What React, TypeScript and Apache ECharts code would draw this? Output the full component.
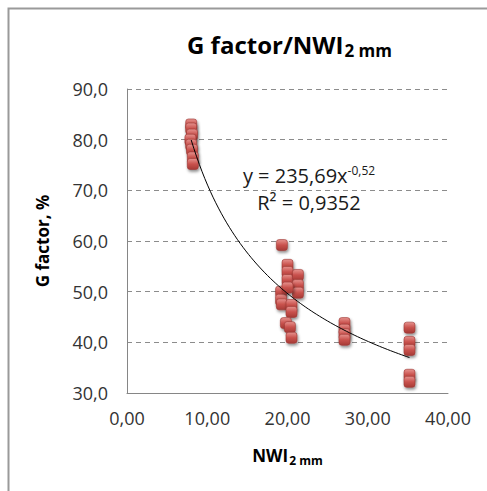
import React, { useEffect, useRef } from "react";
import * as echarts from "echarts";

const clusterA_x = [8.0, 8.0, 8.1, 7.9, 8.0, 8.1, 8.2, 8.2];
const clusterA_y = [83.0, 82.2, 81.0, 80.0, 79.0, 78.0, 76.5, 75.2];

const clusterB_x = [19.3, 20.0, 20.0, 20.0, 21.3, 21.3, 21.3, 19.2, 19.2, 19.3, 20.5, 20.5, 20.0, 19.8, 20.3, 20.5];
const clusterB_y = [59.2, 55.3, 53.9, 52.3, 53.3, 51.3, 49.8, 50.0, 48.4, 47.5, 47.4, 46.0, 50.8, 43.8, 43.0, 40.9];

const clusterC_x = [27.1, 27.1, 27.1, 27.1];
const clusterC_y = [43.8, 42.5, 41.6, 40.5];

const clusterD_x = [35.2, 35.2, 35.2, 35.2, 35.2];
const clusterD_y = [42.9, 40.1, 38.5, 33.6, 32.2];

// Power trend line shown on the chart: y = 235,69 x^-0,52
const TREND_A = 235.69;
const TREND_B = -0.52;
const TREND_X_MIN = 8.0;
const TREND_X_MAX = 35.2;

const yTicks = ["30,0", "40,0", "50,0", "60,0", "70,0", "80,0", "90,0"];
const xTicks = ["0,00", "10,00", "20,00", "30,00", "40,00"];

const FONT = "'Open Sans', Lato, sans-serif";

export default function App() {
  const ref = useRef<HTMLDivElement>(null);
  useEffect(() => {
    if (!ref.current) return;
    const chart = echarts.init(ref.current, undefined, { renderer: "svg" });

    const points: number[][] = [];
    const add = (xs: number[], ys: number[]) => xs.forEach((x, i) => points.push([x, ys[i]]));
    add(clusterA_x, clusterA_y);
    add(clusterB_x, clusterB_y);
    add(clusterC_x, clusterC_y);
    add(clusterD_x, clusterD_y);

    const trend: number[][] = [];
    const steps = 80;
    for (let i = 0; i <= steps; i++) {
      const x = TREND_X_MIN + ((TREND_X_MAX - TREND_X_MIN) * i) / steps;
      trend.push([x, TREND_A * Math.pow(x, TREND_B)]);
    }

    chart.setOption({
      animation: false,
      backgroundColor: "#ffffff",
      grid: { left: 127, right: 39, top: 89, bottom: 98, containLabel: false },
      xAxis: {
        type: "value",
        min: 0,
        max: 40,
        interval: 10,
        axisLine: { show: true, lineStyle: { color: "#868686", width: 1 } },
        axisTick: { show: false },
        splitLine: { show: false },
        axisLabel: {
          margin: 16,
          fontFamily: FONT,
          fontSize: 18,
          color: "#333333",
          formatter: (v: number) => xTicks[Math.round(v / 10)],
        },
        name: "{m|NWI}{s|2 mm}",
        nameLocation: "middle",
        nameGap: 52,
        nameTextStyle: {
          rich: {
            m: { fontFamily: FONT, fontSize: 17, fontWeight: "bold", color: "#000" },
            s: { fontFamily: FONT, fontSize: 12, fontWeight: "bold", color: "#000", padding: [9, 0, 0, 1] },
          },
        },
      },
      yAxis: {
        type: "value",
        min: 30,
        max: 90,
        interval: 10,
        axisLine: { show: true, lineStyle: { color: "#868686", width: 1 } },
        axisTick: { show: false },
        splitLine: { show: true, lineStyle: { color: "#8c8c8c", type: [5, 4], width: 1 } },
        axisLabel: {
          margin: 19,
          fontFamily: FONT,
          fontSize: 18,
          color: "#333333",
          formatter: (v: number) => yTicks[Math.round((v - 30) / 10)],
        },
        name: "G factor, %",
        nameLocation: "middle",
        nameGap: 76,
        nameTextStyle: { fontFamily: FONT, fontSize: 17, fontWeight: "bold", color: "#000" },
      },
      graphic: [
        {
          type: "polyline",
          shape: { points: [[8.5, 491], [8.5, 8.5], [487, 8.5]] },
          style: { stroke: "#9a9a9a", lineWidth: 2, fill: "none" },
          silent: true,
        },
        {
          type: "text",
          x: 187,
          y: 44,
          style: {
            text: "{m|G factor/NWI}{s|2 mm}",
            verticalAlign: "middle",
            align: "left",
            rich: {
              m: { fontFamily: FONT, fontSize: 24, fontWeight: "bold", fill: "#000" },
              s: { fontFamily: FONT, fontSize: 17, fontWeight: "bold", fill: "#000", padding: [13, 0, 0, 1] },
            },
          },
        },
        {
          type: "text",
          x: 309,
          y: 189,
          style: {
            text: "{m|y = 235,69x}{s|-0,52}\n{m|R² = 0,9352}",
            verticalAlign: "middle",
            align: "center",
            rich: {
              m: { fontFamily: FONT, fontSize: 20, lineHeight: 27, fill: "#1a1a1a", align: "center" },
              s: { fontFamily: FONT, fontSize: 12, lineHeight: 12, fill: "#1a1a1a", padding: [0, 0, 10, 0], align: "center" },
            },
          },
        },
      ],
      series: [
        {
          type: "scatter",
          data: points,
          symbol: "roundRect",
          symbolSize: 11,
          z: 3,
          itemStyle: {
            color: new echarts.graphic.LinearGradient(0, 0, 0, 1, [
              { offset: 0, color: "#e6928e" },
              { offset: 0.5, color: "#c9524d" },
              { offset: 1, color: "#a63a36" },
            ]),
            borderColor: "#9a3532",
            borderWidth: 0.6,
            shadowBlur: 3,
            shadowColor: "rgba(0,0,0,0.45)",
            shadowOffsetX: 1,
            shadowOffsetY: 2,
            opacity: 1,
          },
        },
        {
          type: "line",
          data: trend,
          showSymbol: false,
          symbol: "none",
          smooth: false,
          z: 4,
          lineStyle: { color: "#000000", width: 1 },
        },
      ],
    });
    return () => chart.dispose();
  }, []);
  return (
    <div
      ref={ref}
      style={{ position: "fixed", left: 0, top: 0, width: 487, height: 491 }}
    />
  );
}
